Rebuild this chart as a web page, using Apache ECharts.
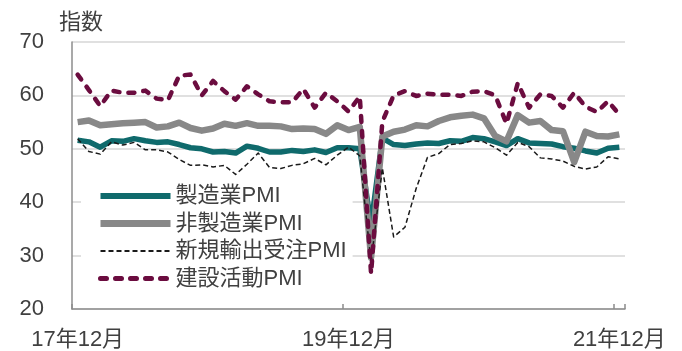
<!DOCTYPE html>
<html>
<head>
<meta charset="utf-8">
<script src="https://cdn.jsdelivr.net/npm/echarts@6/dist/echarts.min.js"></script>
<style>
  html, body { margin: 0; padding: 0; background: #ffffff; }
  #chart { width: 682px; height: 351px; }
</style>
</head>
<body>
<div id="chart"></div>
<script>
// Monthly categories, Dec 2017 through Dec 2021 (49 months)
const months = [];
for (let i = 0; i < 49; i++) {
  const year = 2017 + Math.floor((11 + i) / 12);
  const month = ((11 + i) % 12) + 1;
  months.push(String(year).slice(2) + '年' + month + '月');
}

// Index values (PMI, 50 = boom/bust line)
const manufacturing = [51.6,
  51.3, 50.3, 51.5, 51.4, 51.9, 51.5, 51.2, 51.3, 50.8, 50.2, 50.0, 49.4,
  49.5, 49.2, 50.5, 50.1, 49.4, 49.4, 49.7, 49.5, 49.8, 49.3, 50.2, 50.2,
  50.0, 35.7, 52.0, 50.8, 50.6, 50.9, 51.1, 51.0, 51.5, 51.4, 52.1, 51.9,
  51.3, 50.6, 51.9, 51.1, 51.0, 50.9, 50.4, 50.1, 49.6, 49.2, 50.1, 50.3];

const nonManufacturing = [55.0,
  55.3, 54.4, 54.6, 54.8, 54.9, 55.0, 54.0, 54.2, 54.9, 53.9, 53.4, 53.8,
  54.7, 54.3, 54.8, 54.3, 54.3, 54.2, 53.7, 53.8, 53.7, 52.8, 54.4, 53.5,
  54.1, 29.6, 52.3, 53.2, 53.6, 54.4, 54.2, 55.2, 55.9, 56.2, 56.4, 55.7,
  52.4, 51.4, 56.3, 54.9, 55.2, 53.5, 53.3, 47.5, 53.2, 52.4, 52.3, 52.7];

const newExportOrders = [51.9,
  49.5, 49.0, 51.3, 50.7, 51.2, 49.8, 49.8, 49.4, 48.0, 46.9, 47.0, 46.6,
  46.9, 45.2, 47.1, 49.2, 46.5, 46.3, 46.9, 47.2, 48.2, 47.0, 48.8, 50.3,
  48.7, 28.7, 46.4, 33.5, 35.3, 42.6, 48.4, 49.1, 50.8, 51.0, 51.5, 51.3,
  50.2, 48.8, 51.2, 50.4, 48.3, 48.1, 47.7, 46.7, 46.2, 46.6, 48.5, 48.1];

const construction = [63.9,
  61.0, 58.0, 60.9, 60.5, 60.5, 60.9, 59.4, 59.1, 63.7, 63.9, 60.0, 62.7,
  60.8, 59.2, 61.7, 60.2, 58.9, 58.7, 58.7, 61.2, 57.7, 60.5, 58.9, 57.0,
  59.8, 26.6, 55.1, 60.0, 60.8, 59.9, 60.3, 60.1, 60.1, 59.9, 60.7, 60.8,
  60.0, 54.7, 62.3, 57.7, 60.2, 59.9, 57.7, 60.5, 57.9, 56.9, 58.9, 56.4];

const seriesNames = ['製造業PMI', '非製造業PMI', '新規輸出受注PMI', '建設活動PMI'];
const yTicks = { min: 20, max: 70, step: 10 };

const FONT = "'Liberation Sans', 'Noto Sans CJK JP', sans-serif";
const TEXT = '#404040';
const AXIS = '#8c8c8c';

// Line looks shared by the plotted series and their legend keys
const looks = [
  { color: '#0f6a6c', width: 5.5, type: 'solid', cap: 'butt' },
  { color: '#888888', width: 6.5, type: 'solid', cap: 'butt' },
  { color: '#1a1a1a', width: 1.5, type: [5, 3], cap: 'butt' },
  { color: '#6b0c3f', width: 4.5, type: [6, 9], cap: 'round' }
];
const seriesData = [manufacturing, nonManufacturing, newExportOrders, construction];

const chart = echarts.init(document.getElementById('chart'), null, { renderer: 'canvas' });

chart.setOption({
  animation: false,
  backgroundColor: '#ffffff',
  textStyle: { fontFamily: FONT },
  title: {
    text: '指数',
    left: 59,
    top: 12,
    padding: 0,
    textStyle: { fontSize: 22, fontWeight: 'normal', color: TEXT, fontFamily: FONT }
  },
  grid: { left: 72, right: 57, top: 42, bottom: 42, containLabel: false },
  legend: {
    orient: 'vertical',
    left: 81,
    top: 178,
    padding: [7, 6, 7, 16],
    backgroundColor: '#ffffff',
    itemWidth: 70,
    itemHeight: 14,
    itemGap: 5.5,
    data: seriesNames.map((name, i) => ({
      name,
      itemStyle: { opacity: 0 },
      lineStyle: { color: looks[i].color, width: looks[i].width + 0.5, type: looks[i].type, cap: looks[i].cap, opacity: 1 }
    })),
    textStyle: { fontSize: 22, color: TEXT, fontFamily: FONT, lineHeight: 22 }
  },
  xAxis: {
    type: 'category',
    data: months,
    boundaryGap: true,
    axisLine: { lineStyle: { color: AXIS, width: 1.5 } },
    axisTick: { show: true, inside: true, length: 5, interval: 23, lineStyle: { color: AXIS, width: 1.5 } },
    axisLabel: { interval: 23, margin: 20, fontSize: 22, color: TEXT, fontFamily: FONT },
    splitLine: { show: false }
  },
  yAxis: {
    type: 'value',
    min: yTicks.min,
    max: yTicks.max,
    interval: yTicks.step,
    axisLine: { show: true, lineStyle: { color: AXIS, width: 1.5 } },
    axisTick: { show: false },
    axisLabel: { margin: 28, fontSize: 22, color: TEXT, fontFamily: FONT },
    splitLine: { lineStyle: { color: '#e0e0e0', width: 2 } }
  },
  series: seriesNames.map((name, i) => ({
    name,
    type: 'line',
    data: seriesData[i],
    symbol: 'none',
    color: looks[i].color,
    lineStyle: {
      color: looks[i].color,
      width: looks[i].width,
      type: looks[i].type,
      cap: looks[i].cap,
      join: 'round'
    }
  }))
});
</script>
</body>
</html>
